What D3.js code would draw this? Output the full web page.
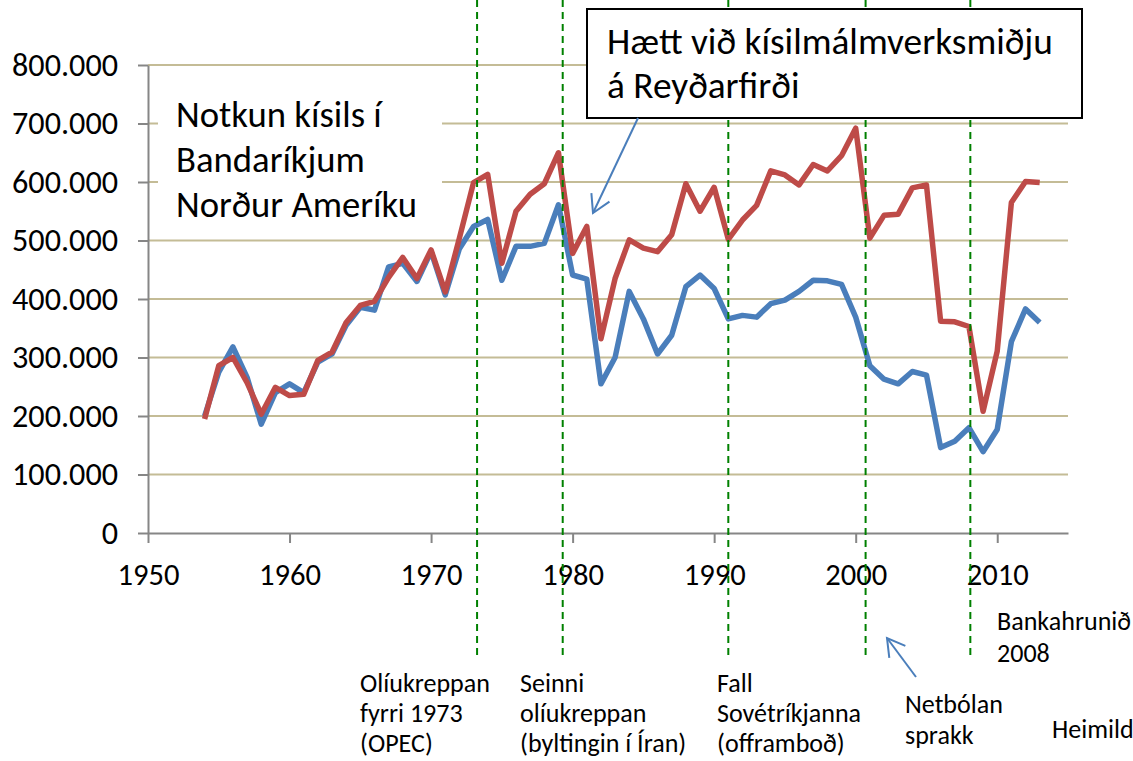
<!DOCTYPE html>
<html>
<head>
<meta charset="utf-8">
<script src="https://cdn.jsdelivr.net/npm/d3@7"></script>
<style>
  body { margin: 0; background: #fff; }
  svg { display: block; font-family: Carlito, Calibri, Lato, sans-serif; }
</style>
</head>
<body>
<svg id="chart" width="1133" height="761"></svg>
<script>
// years 1954 - 2013
const years = d3.range(1954, 2014);

// blue series
const blueValues = [
  200, 275, 318, 266, 186, 240, 255, 240, 292, 306,
  355, 386, 381, 455, 461, 430, 481, 407, 486, 524,
  536, 432, 490, 490, 495, 561, 441, 434, 255, 300,
  413, 366, 306, 338, 421, 441, 418, 366, 372, 369,
  392, 398, 413, 432, 431, 425, 369, 286, 263, 255,
  276, 270, 146, 157, 180, 139, 177, 327, 383, 360
].map(v => v * 1000);

// red series
const redValues = [
  195, 286, 300, 257, 203, 249, 235, 237, 295, 309,
  360, 389, 396, 437, 471, 435, 484, 412, 504, 599,
  613, 461, 550, 579, 597, 650, 478, 524, 332, 435,
  501, 487, 481, 510, 597, 550, 591, 502, 535, 560,
  619, 612, 595, 630, 619, 645, 692, 504, 543, 545,
  590, 595, 362, 361, 353, 208, 311, 565, 601, 599
].map(v => v * 1000);

const xTicks = [1950, 1960, 1970, 1980, 1990, 2000, 2010];
const yTicks = [0, 100000, 200000, 300000, 400000, 500000, 600000, 700000, 800000];

// dashed event lines
const eventYears = [1973.25, 1979.3, 1991.0, 2000.7, 2008.1];

const svg = d3.select('#chart');

const x = d3.scaleLinear().domain([1950, 2015]).range([148, 1068]);
const y = d3.scaleLinear().domain([0, 800000]).range([533, 65]);

const is = d3.formatLocale({decimal: ',', thousands: '.', grouping: [3], currency: ['', ' kr.']});
const fmtY = is.format(',d');

// pick a font size so that a sample string gets the wanted width
function fit(sample, target) {
  const t = svg.append('text').style('font-size', '30px').text(sample);
  const w = t.node().getComputedTextLength();
  t.remove();
  return 30 * target / w;
}
const fsY = fit('800.000', 106);
const fsX = fit('1950', 62);
const fsTitle = fit('Norður Ameríku', 241);
const fsBox = fit('Hætt við kísilmálmverksmiðju', 446);
const fsNote = fit('Olíukreppan', 130);

// gridlines
svg.append('g')
  .selectAll('line')
  .data(yTicks.filter(d => d > 0))
  .enter()
  .append('line')
  .attr('x1', x(1950))
  .attr('x2', x(2015))
  .attr('y1', d => y(d))
  .attr('y2', d => y(d))
  .attr('stroke', '#c4bc96')
  .attr('stroke-width', 2);

// axes
const yAxis = svg.append('g')
  .attr('transform', `translate(${x(1950)},0)`)
  .call(d3.axisLeft(y).tickValues(yTicks).tickFormat(fmtY).tickSize(10).tickSizeOuter(0).tickPadding(20));

const xAxis = svg.append('g')
  .attr('transform', `translate(0,${y(0)})`)
  .call(d3.axisBottom(x).tickValues(xTicks).tickFormat(d3.format('d')).tickSize(10).tickSizeOuter(0).tickPadding(0));

[yAxis, xAxis].forEach(a => {
  a.select('.domain').attr('stroke', '#868686').attr('stroke-width', 2);
  a.selectAll('.tick line').attr('stroke', '#868686').attr('stroke-width', 2);
  a.selectAll('.tick text')
    .attr('fill', '#000')
    .style('font-family', 'Carlito, Calibri, Lato, sans-serif');
});
yAxis.selectAll('.tick text').style('font-size', fsY + 'px');
xAxis.selectAll('.tick text')
  .style('font-size', fsX + 'px')
  .attr('y', 52)
  .attr('dy', null);

// lines
const line = d3.line()
  .x((d, i) => x(years[i]))
  .y(d => y(d));

[[blueValues, '#4a7ebb'], [redValues, '#be4b48']].forEach(([vals, color]) => {
  svg.append('path')
    .datum(vals)
    .attr('fill', 'none')
    .attr('stroke', color)
    .attr('stroke-width', 5.5)
    .attr('stroke-linejoin', 'round')
    .attr('d', line);
});

// event lines
svg.append('g')
  .selectAll('line')
  .data(eventYears)
  .enter()
  .append('line')
  .attr('x1', d => x(d))
  .attr('x2', d => x(d))
  .attr('y1', 0)
  .attr('y2', 655)
  .attr('stroke', '#008000')
  .attr('stroke-width', 2)
  .attr('stroke-dasharray', '7,5');

// title box on the left
svg.append('rect')
  .attr('x', 158).attr('y', 82)
  .attr('width', 284).attr('height', 150)
  .attr('fill', '#fff');

const leftText = svg.append('text')
  .attr('x', 176)
  .attr('y', 127)
  .style('font-size', fsTitle + 'px')
  .attr('fill', '#000');
['Notkun kísils í', 'Bandaríkjum', 'Norður Ameríku'].forEach((t, i) => {
  leftText.append('tspan').attr('x', 176).attr('dy', i ? 45 : 0).text(t);
});

// callout box
svg.append('rect')
  .attr('x', 587).attr('y', 9)
  .attr('width', 495).attr('height', 109)
  .attr('fill', '#fff')
  .attr('stroke', '#000')
  .attr('stroke-width', 2);

const boxText = svg.append('text')
  .attr('x', 607)
  .attr('y', 54)
  .style('font-size', fsBox + 'px')
  .attr('fill', '#000');
['Hætt við kísilmálmverksmiðju', 'á Reyðarfirði'].forEach((t, i) => {
  boxText.append('tspan').attr('x', 607).attr('dy', i ? 44 : 0).text(t);
});

// arrows
function arrow(x1, y1, x2, y2) {
  const g = svg.append('g')
    .attr('stroke', '#4a7ebb')
    .attr('stroke-width', 2)
    .attr('fill', 'none');
  g.append('line').attr('x1', x1).attr('y1', y1).attr('x2', x2).attr('y2', y2);
  const a = Math.atan2(y1 - y2, x1 - x2);
  const len = 20, spread = Math.PI / 6;
  const pts = [a - spread, a + spread].map(t => [x2 + len * Math.cos(t), y2 + len * Math.sin(t)]);
  g.append('path')
    .attr('d', `M${pts[0][0]},${pts[0][1]}L${x2},${y2}L${pts[1][0]},${pts[1][1]}`);
}
arrow(638, 118, 593, 213);
arrow(916, 677, 887, 638);

// event notes below the axis
const notes = [
  {x: 360, y: 692, gap: 30, lines: ['Olíukreppan', 'fyrri 1973', '(OPEC)']},
  {x: 520, y: 692, gap: 30, lines: ['Seinni', 'olíukreppan', '(byltingin í Íran)']},
  {x: 717, y: 692, gap: 30, lines: ['Fall', 'Sovétríkjanna', '(offramboð)']},
  {x: 905, y: 713, gap: 31, lines: ['Netbólan', 'sprakk']},
  {x: 997, y: 630, gap: 32, lines: ['Bankahrunið', '2008']},
  {x: 1052, y: 738, gap: 0, lines: ['Heimild']}
];
notes.forEach(n => {
  const t = svg.append('text')
    .attr('x', n.x)
    .attr('y', n.y)
    .style('font-size', fsNote + 'px')
    .attr('fill', '#000');
  n.lines.forEach((l, i) => {
    t.append('tspan').attr('x', n.x).attr('dy', i ? n.gap : 0).text(l);
  });
});
</script>
</body>
</html>
